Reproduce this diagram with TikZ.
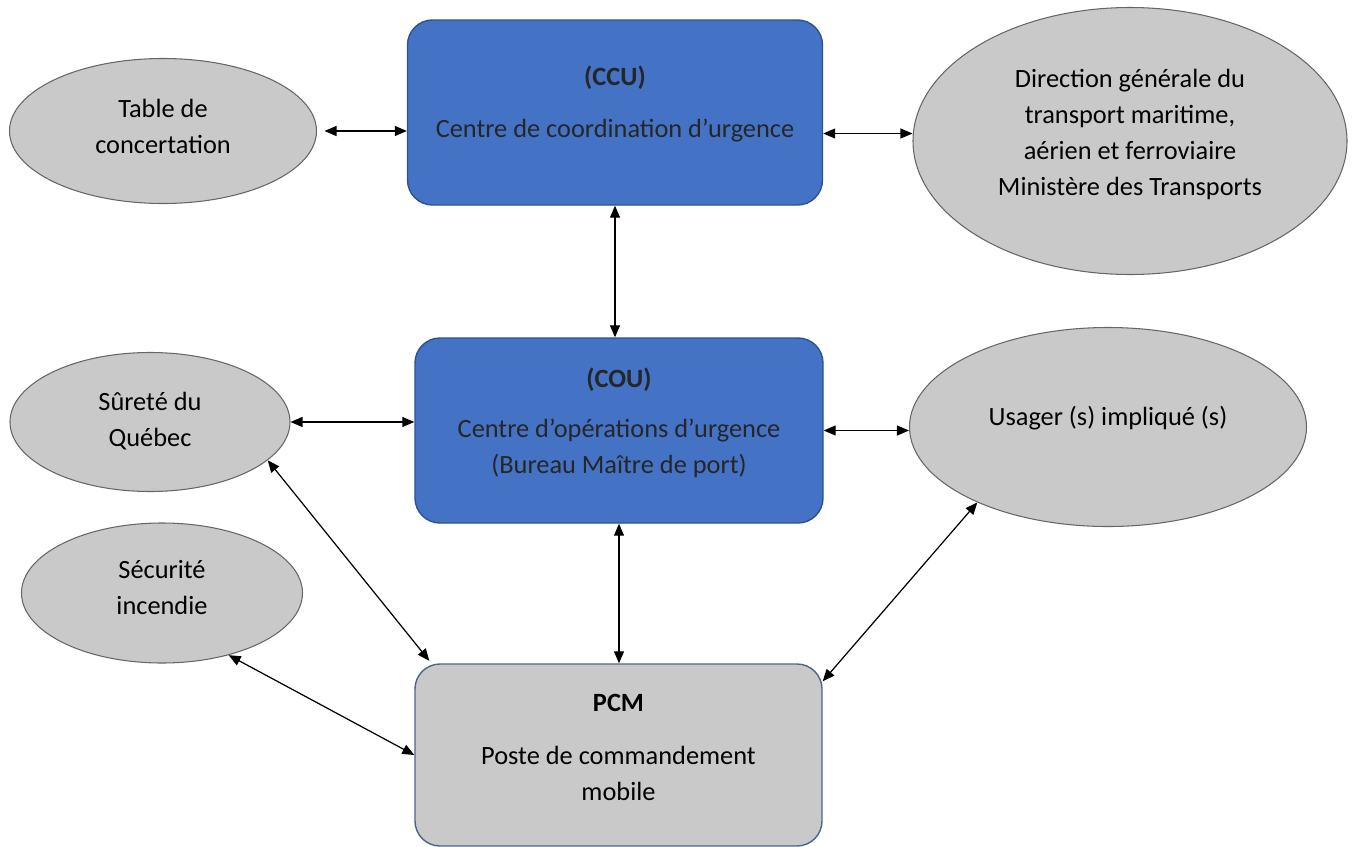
\documentclass[tikz,border=0pt]{standalone}
\usepackage{fontspec}
\setmainfont{Carlito}
\usetikzlibrary{positioning, arrows.meta, shapes.geometric, calc}

\definecolor{ccublue}{HTML}{4472C4}
\definecolor{cculine}{HTML}{2F528F}
\definecolor{ovalgray}{HTML}{C9C9C9}

\begin{document}
\begin{tikzpicture}[
        bluebox/.style={rectangle, draw=cculine, line width=0.8pt, fill=ccublue, rounded corners=0.5cm,
                    minimum width=8.3cm, minimum height=3.7cm, align=center, text=black!85,
                    font=\fontsize{15}{20.5}\selectfont},
        graybox/.style={bluebox, draw=cculine!60!gray, fill=ovalgray, text=black},
        oval/.style={ellipse, draw=black!60, line width=0.6pt, fill=ovalgray, inner sep=0pt, align=center,
                     font=\fontsize{15}{20.5}\selectfont},
        arrow/.style={{Triangle[length=2.4mm, width=2mm]}-{Triangle[length=2.4mm, width=2mm]}, line width=0.7pt, draw=black}
    ]
        \useasboundingbox (0,0) rectangle (27.04,-16.94);

        % central column
        \node[bluebox, text depth=0.45cm] (ccu) at (12.3,-2.25)
            {\textbf{(CCU)}\\[3.2mm]Centre de coordination d’urgence};
        \node[bluebox, minimum width=8.16cm, text depth=0.4cm] (cou) at (12.38,-8.61)
            {\textbf{(COU)}\\[2.8mm]Centre d’opérations d’urgence\\(Bureau Maître de port)};
        \node[graybox, minimum width=8.14cm, minimum height=3.64cm, text depth=0.3cm] (pcm) at (12.37,-15.1)
            {\textbf{PCM}\\[3.4mm]Poste de commandement\\mobile};

        % partners
        \node[oval, minimum width=6.14cm, minimum height=2.9cm, text depth=0.2cm] (table) at (3.26,-2.62)
            {Table de\\concertation};
        \node[oval, minimum width=8.68cm, minimum height=5.34cm, text depth=0.35cm] (direction) at (22.6,-2.82)
            {Direction générale du\\transport maritime,\\aérien et ferroviaire\\Ministère des Transports};
        \node[oval, minimum width=5.6cm, minimum height=2.78cm, text depth=0.12cm] (surete) at (3.0,-8.44)
            {Sûreté du\\Québec};
        \node[oval, minimum width=7.94cm, minimum height=3.98cm, text depth=0.45cm] (usager) at (22.16,-8.54)
            {Usager (s) impliqué (s)};
        \node[oval, minimum width=5.62cm, minimum height=2.8cm, text depth=0.22cm] (securite) at (3.24,-11.86)
            {Sécurité\\incendie};

        \draw[arrow] ([xshift=1.5mm]table.east) -- (table -| ccu.west);
        \draw[arrow] ([yshift=1.5mm]direction.west) -- ([yshift=1.5mm]direction.west -| ccu.east);
        \draw[arrow] (ccu.south) -- (ccu.south |- cou.north);
        \draw[arrow] (surete.east) -- (surete.east -| cou.west);
        \draw[arrow] (cou.east) -- (cou.east -| usager.west);
        \draw[arrow] (cou.south) -- (cou.south |- pcm.north);
        \draw[arrow] (surete.-18) -- ([xshift=3mm, yshift=0.5mm]pcm.north west);
        \draw[arrow] (usager.-150) -- ([yshift=-3.6mm]pcm.north east);
        \draw[arrow] (securite.-43) -- (pcm.west);
    \end{tikzpicture}
\end{document}
